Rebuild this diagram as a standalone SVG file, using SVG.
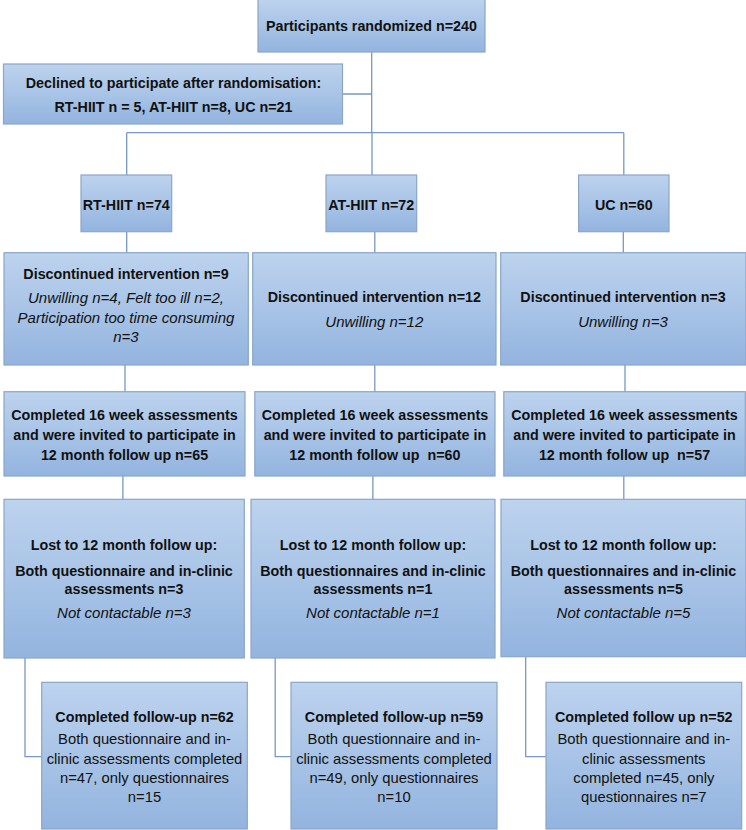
<svg xmlns="http://www.w3.org/2000/svg" width="746" height="830" viewBox="0 0 746 830">
<defs>
<linearGradient id="g" x1="0" y1="0" x2="0" y2="1">
<stop offset="0" stop-color="#bdd3ee"/>
<stop offset="1" stop-color="#93b4df"/>
</linearGradient>
<style>
.box{fill:url(#g);stroke:#8ba6c7;stroke-width:1.2}
.c{fill:none;stroke:#7898c2;stroke-width:1.3}
text{font-family:"Liberation Sans",Arial,sans-serif;fill:#111;text-anchor:middle}
.b{font-weight:bold;font-size:14.3px}
.r{font-size:14.8px}
.i{font-style:italic;font-size:15px}
</style>
</defs>
<rect width="746" height="830" fill="#fff"/>
<g id="connectors">
<path class="c" d="M371.7 52V132.7M342.7 94H371.7M126.7 132.7H623.8M126.7 132.7V175M372 132.7V175M623.8 132.7V175"/>
<path class="c" d="M126.7 231.7V252.7M374.8 231.7V252.7M623.3 231.7V252.7"/>
<path class="c" d="M125 365V391.7M374.8 365V391.7M625 365V391.7"/>
<path class="c" d="M122.9 476V499.3M372.9 476V499.3M623.8 476V499.3"/>
<path class="c" d="M25 658V756.7H41.7M275.2 658V756.7H291M525.7 656.7V756.7H546"/>
</g>
<g id="randomized">
<rect class="box" x="258" y="-1" width="227" height="53"/>
<text class="b" x="371.5" y="31">Participants randomized n=240</text>
</g>
<g id="declined">
<rect class="box" x="3.5" y="64" width="339" height="60"/>
<text class="b" x="173.5" y="88">Declined to participate after randomisation:</text>
<text class="b" x="173.5" y="112">RT-HIIT n = 5, AT-HIIT n=8, UC n=21</text>
</g>
<g id="rt">
<rect class="box" x="81" y="175" width="90.7" height="56.7"/>
<text class="b" x="126.3" y="210">RT-HIIT n=74</text>
</g>
<g id="at">
<rect class="box" x="326" y="175" width="90.7" height="56.7"/>
<text class="b" x="371.3" y="210">AT-HIIT n=72</text>
</g>
<g id="uc">
<rect class="box" x="578.6" y="175" width="90.4" height="56.7"/>
<text class="b" x="623.8" y="210">UC n=60</text>
</g>
<g id="disc-rt">
<rect class="box" x="4" y="252.7" width="244.3" height="112.3"/>
<text class="b" x="126" y="279">Discontinued intervention n=9</text>
<text class="i" x="126" y="302.5">Unwilling n=4, Felt too ill n=2,</text>
<text class="i" x="126" y="323">Participation too time consuming</text>
<text class="i" x="126" y="342">n=3</text>
</g>
<g id="disc-at">
<rect class="box" x="252.7" y="252.7" width="243.3" height="112.3"/>
<text class="b" x="374.3" y="301.7">Discontinued intervention n=12</text>
<text class="i" x="374.3" y="326.7">Unwilling n=12</text>
</g>
<g id="disc-uc">
<rect class="box" x="500.7" y="252.7" width="245.3" height="112.3"/>
<text class="b" x="623" y="301.7">Discontinued intervention n=3</text>
<text class="i" x="623" y="326.7">Unwilling n=3</text>
</g>
<g id="wk16-rt">
<rect class="box" x="4" y="391.7" width="241" height="84.3"/>
<text class="b" x="124.5" y="420">Completed 16 week assessments</text>
<text class="b" x="124.5" y="440">and were invited to participate in</text>
<text class="b" x="124.5" y="460">12 month follow up n=65</text>
</g>
<g id="wk16-at">
<rect class="box" x="254.8" y="391.7" width="240.2" height="84.3"/>
<text class="b" x="374.9" y="420">Completed 16 week assessments</text>
<text class="b" x="374.9" y="440">and were invited to participate in</text>
<text class="b" x="374.9" y="460" xml:space="preserve">12 month follow up  n=60</text>
</g>
<g id="wk16-uc">
<rect class="box" x="503.8" y="391.7" width="241.5" height="84.3"/>
<text class="b" x="624.5" y="420">Completed 16 week assessments</text>
<text class="b" x="624.5" y="440">and were invited to participate in</text>
<text class="b" x="624.5" y="460" xml:space="preserve">12 month follow up  n=57</text>
</g>
<g id="lost-rt">
<rect class="box" x="4" y="499.3" width="240.3" height="158.7"/>
<text class="b" x="124" y="550">Lost to 12 month follow up:</text>
<text class="b" x="124" y="576">Both questionnaire and in-clinic</text>
<text class="b" x="124" y="594">assessments n=3</text>
<text class="i" x="124" y="618">Not contactable n=3</text>
</g>
<g id="lost-at">
<rect class="box" x="251" y="499.3" width="244" height="158.7"/>
<text class="b" x="373" y="550">Lost to 12 month follow up:</text>
<text class="b" x="373" y="576">Both questionnaires and in-clinic</text>
<text class="b" x="373" y="594">assessments n=1</text>
<text class="i" x="373" y="618">Not contactable n=1</text>
</g>
<g id="lost-uc">
<rect class="box" x="501" y="499.3" width="245" height="157.4"/>
<text class="b" x="623.5" y="550">Lost to 12 month follow up:</text>
<text class="b" x="623.5" y="576">Both questionnaires and in-clinic</text>
<text class="b" x="623.5" y="594">assessments n=5</text>
<text class="i" x="623.5" y="618">Not contactable n=5</text>
</g>
<g id="final-rt">
<rect class="box" x="41.7" y="682.3" width="205.6" height="146.7"/>
<text class="b" x="144.5" y="722">Completed follow-up n=62</text>
<text class="r" x="144.5" y="744">Both questionnaire and in-</text>
<text class="r" x="144.5" y="764">clinic assessments completed</text>
<text class="r" x="144.5" y="783">n=47, only questionnaires</text>
<text class="r" x="144.5" y="802">n=15</text>
</g>
<g id="final-at">
<rect class="box" x="291" y="682.3" width="206" height="146.7"/>
<text class="b" x="394" y="722">Completed follow-up n=59</text>
<text class="r" x="394" y="744">Both questionnaire and in-</text>
<text class="r" x="394" y="764">clinic assessments completed</text>
<text class="r" x="394" y="783">n=49, only questionnaires</text>
<text class="r" x="394" y="802">n=10</text>
</g>
<g id="final-uc">
<rect class="box" x="546" y="682.3" width="195.7" height="146.7"/>
<text class="b" x="643.8" y="722">Completed follow up n=52</text>
<text class="r" x="643.8" y="744">Both questionnaire and in-</text>
<text class="r" x="643.8" y="764">clinic assessments</text>
<text class="r" x="643.8" y="783">completed n=45, only</text>
<text class="r" x="643.8" y="802">questionnaires n=7</text>
</g>
</svg>
